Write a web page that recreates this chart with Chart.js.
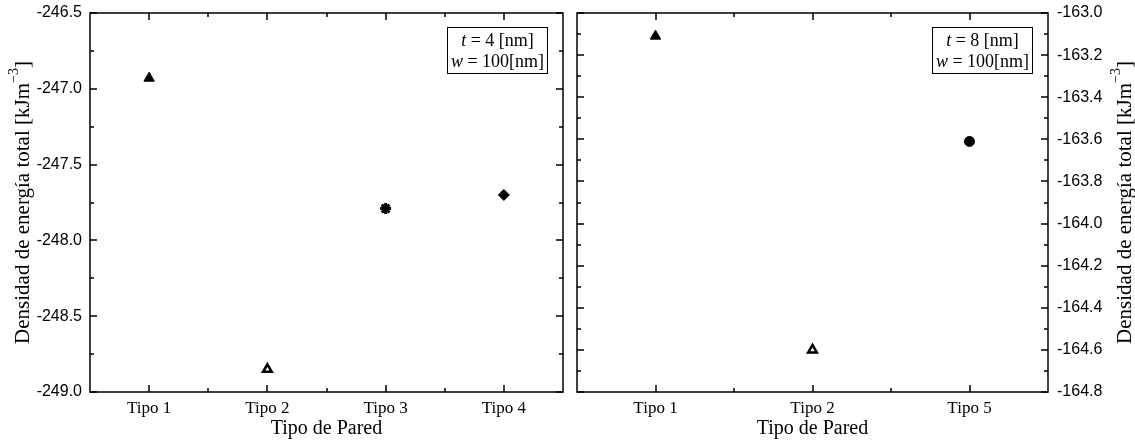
<!DOCTYPE html>
<html>
<head>
<meta charset="utf-8">
<script src="https://cdn.jsdelivr.net/npm/chart.js@4.4.0/dist/chart.umd.min.js"></script>
<style>
  html, body { margin: 0; padding: 0; background: #fff; }
  #wrap { position: relative; width: 1135px; height: 447px; }
  canvas { position: absolute; top: 0; }
  #c1 { left: 0; }
  #c2 { left: 570px; }
</style>
</head>
<body>
<div id="wrap">
  <canvas id="c1" width="570" height="447"></canvas>
  <canvas id="c2" width="565" height="447"></canvas>
</div>
<script>
// ---- Data ----
const leftCategories = ['Tipo 1', 'Tipo 2', 'Tipo 3', 'Tipo 4'];
const leftValues = [-246.93, -248.85, -247.79, -247.70];
const leftYMin = -249.0, leftYMax = -246.5, leftYStep = 0.5;

const rightCategories = ['Tipo 1', 'Tipo 2', 'Tipo 5'];
const rightValues = [-163.11, -164.60, -163.61];
const rightYMin = -164.8, rightYMax = -163.0, rightYStep = 0.2;

const xTitle = 'Tipo de Pared';
const yTitleMain = 'Densidad de energía total [kJm';
const yTitleSup = '\u22123';
const yTitleEnd = ']';
const leftBox = [[{t:'t', i:true}, {t:' = 4 [nm]'}], [{t:'w', i:true}, {t:' = 100[nm]'}]];
const rightBox = [[{t:'t', i:true}, {t:' = 8 [nm]'}], [{t:'w', i:true}, {t:' = 100[nm]'}]];

Chart.defaults.devicePixelRatio = 1;
const SANS = "'Liberation Sans', Arial, sans-serif";
const SERIF = "'Liberation Serif', 'Times New Roman', serif";

function drawYTitle(ctx, cx, cy) {
  ctx.save();
  ctx.translate(cx, cy);
  ctx.rotate(-Math.PI / 2);
  ctx.fillStyle = '#000';
  ctx.textBaseline = 'middle';
  const fMain = '21px ' + SERIF, fSup = '14px ' + SERIF;
  ctx.font = fMain; const w1 = ctx.measureText(yTitleMain).width; const w3 = ctx.measureText(yTitleEnd).width;
  ctx.font = fSup; const w2 = ctx.measureText(yTitleSup).width;
  let x = -(w1 + w2 + w3) / 2;
  ctx.textAlign = 'left';
  ctx.font = fMain; ctx.fillText(yTitleMain, x, 0); x += w1;
  ctx.font = fSup; ctx.fillText(yTitleSup, x, -9); x += w2;
  ctx.font = fMain; ctx.fillText(yTitleEnd, x, 0);
  ctx.restore();
}

function drawBox(ctx, lines, right, top) {
  const w = 100, h = 46;
  const left = right - w;
  ctx.save();
  ctx.strokeStyle = '#000'; ctx.lineWidth = 1;
  ctx.strokeRect(left + 0.5, top + 0.5, w, h);
  ctx.fillStyle = '#000';
  ctx.textBaseline = 'alphabetic';
  ctx.textAlign = 'left';
  lines.forEach((segs, li) => {
    let total = 0;
    segs.forEach(s => { ctx.font = (s.i ? 'italic ' : '') + '18px ' + SERIF; s.w = ctx.measureText(s.t).width; total += s.w; });
    let x = left + w / 2 - total / 2 + 0.5;
    const y = top + 19 + li * 21;
    segs.forEach(s => { ctx.font = (s.i ? 'italic ' : '') + '18px ' + SERIF; ctx.fillText(s.t, x, y); x += s.w; });
  });
  ctx.restore();
}

function framePlugin(cfg) {
  return {
    id: 'frame',
    afterDraw(chart) {
      const ctx = chart.ctx, a = chart.chartArea;
      const ys = chart.scales.y, xs = chart.scales.x;
      ctx.save();
      ctx.strokeStyle = '#000';
      ctx.lineWidth = 1.5;
      ctx.strokeRect(a.left, a.top, a.right - a.left, a.bottom - a.top);
      ctx.beginPath();
      const minor = cfg.step / 2;
      const n = Math.round((cfg.max - cfg.min) / minor);
      for (let k = 0; k <= n; k++) {
        const v = cfg.min + k * minor;
        const py = Math.round(ys.getPixelForValue(v));
        const len = (k % 2 === 0) ? 7 : 4;
        ctx.moveTo(a.left, py); ctx.lineTo(a.left + len, py);
        ctx.moveTo(a.right, py); ctx.lineTo(a.right - len, py);
      }
      const nc = cfg.cats.length;
      for (let i = 0; i < nc; i++) {
        const px = Math.round(xs.getPixelForValue(i));
        ctx.moveTo(px, a.top); ctx.lineTo(px, a.top + 7);
        ctx.moveTo(px, a.bottom); ctx.lineTo(px, a.bottom - 7);
        if (i < nc - 1) {
          const pm = Math.round((xs.getPixelForValue(i) + xs.getPixelForValue(i + 1)) / 2);
          ctx.moveTo(pm, a.top); ctx.lineTo(pm, a.top + 4);
          ctx.moveTo(pm, a.bottom); ctx.lineTo(pm, a.bottom - 4);
        }
      }
      ctx.stroke();
      ctx.restore();
      drawYTitle(ctx, cfg.titleX, (a.top + a.bottom) / 2);
      drawBox(ctx, cfg.box, a.right - 16, a.top + 14);
    }
  };
}

function makeChart(id, cats, values, styles, cfg) {
  const yAxis = {
    type: 'linear',
    position: cfg.pos,
    min: cfg.min, max: cfg.max,
    grid: { display: false, drawTicks: false },
    border: { display: false },
    ticks: {
      stepSize: cfg.step,
      padding: cfg.pos === 'left' ? 8 : 9,
      color: '#000',
      font: { family: SANS, size: 16 },
      callback: v => Number(v).toFixed(1)
    },
    afterFit(scale) {
      scale.width = cfg.yWidth;
      scale.paddingTop = 0;
      scale.paddingBottom = 0;
    }
  };
  const overlay = styles.overlay ? [{
    data: values.map((v, i) => styles.overlay[i] ? v : null),
    showLine: false,
    pointStyle: 'cross',
    pointRadius: 3.5,
    pointBorderColor: '#fff',
    pointBorderWidth: 1,
    pointBackgroundColor: '#fff'
  }] : [];
  return new Chart(document.getElementById(id), {
    type: 'line',
    data: {
      labels: cats,
      datasets: [{
        data: values,
        showLine: false,
        pointStyle: styles.shape,
        pointRadius: styles.radius,
        pointBackgroundColor: styles.fill,
        pointBorderColor: '#000',
        pointBorderWidth: styles.bw
      }].concat(overlay)
    },
    options: {
      responsive: false,
      animation: false,
      events: [],
      layout: { padding: cfg.padding },
      plugins: { legend: { display: false }, tooltip: { enabled: false } },
      scales: {
        x: {
          type: 'category',
          offset: true,
          grid: { display: false, drawTicks: false },
          border: { display: false },
          ticks: { padding: 6, color: '#000', font: { family: SERIF, size: 17 }, maxRotation: 0, autoSkip: false },
          title: { display: true, text: xTitle, color: '#000', font: { family: SERIF, size: 20 }, padding: { top: 0, bottom: 6 } },
          afterFit(scale) { scale.height = 55; }
        },
        y: yAxis
      }
    },
    plugins: [framePlugin(cfg)]
  });
}

makeChart('c1', leftCategories, leftValues, {
  shape: ['triangle', 'triangle', 'star', 'rectRot'],
  radius: [6, 5, 5.5, 5.5],
  fill: ['#000', '#fff', '#000', '#000'],
  bw: [1, 2.5, 3, 1],
  overlay: [false, false, false, true]
}, {
  pos: 'left', min: leftYMin, max: leftYMax, step: leftYStep, yWidth: 90,
  padding: { top: 13, right: 7, left: 0, bottom: 0 },
  cats: leftCategories, titleX: 23, box: leftBox
});

makeChart('c2', rightCategories, rightValues, {
  shape: ['triangle', 'triangle', 'circle'],
  radius: [6, 5, 5],
  fill: ['#000', '#fff', '#000'],
  bw: [1, 2.5, 1]
}, {
  pos: 'right', min: rightYMin, max: rightYMax, step: rightYStep, yWidth: 87,
  padding: { top: 13, right: 0, left: 7, bottom: 0 },
  cats: rightCategories, titleX: 555, box: rightBox
});
</script>
</body>
</html>
